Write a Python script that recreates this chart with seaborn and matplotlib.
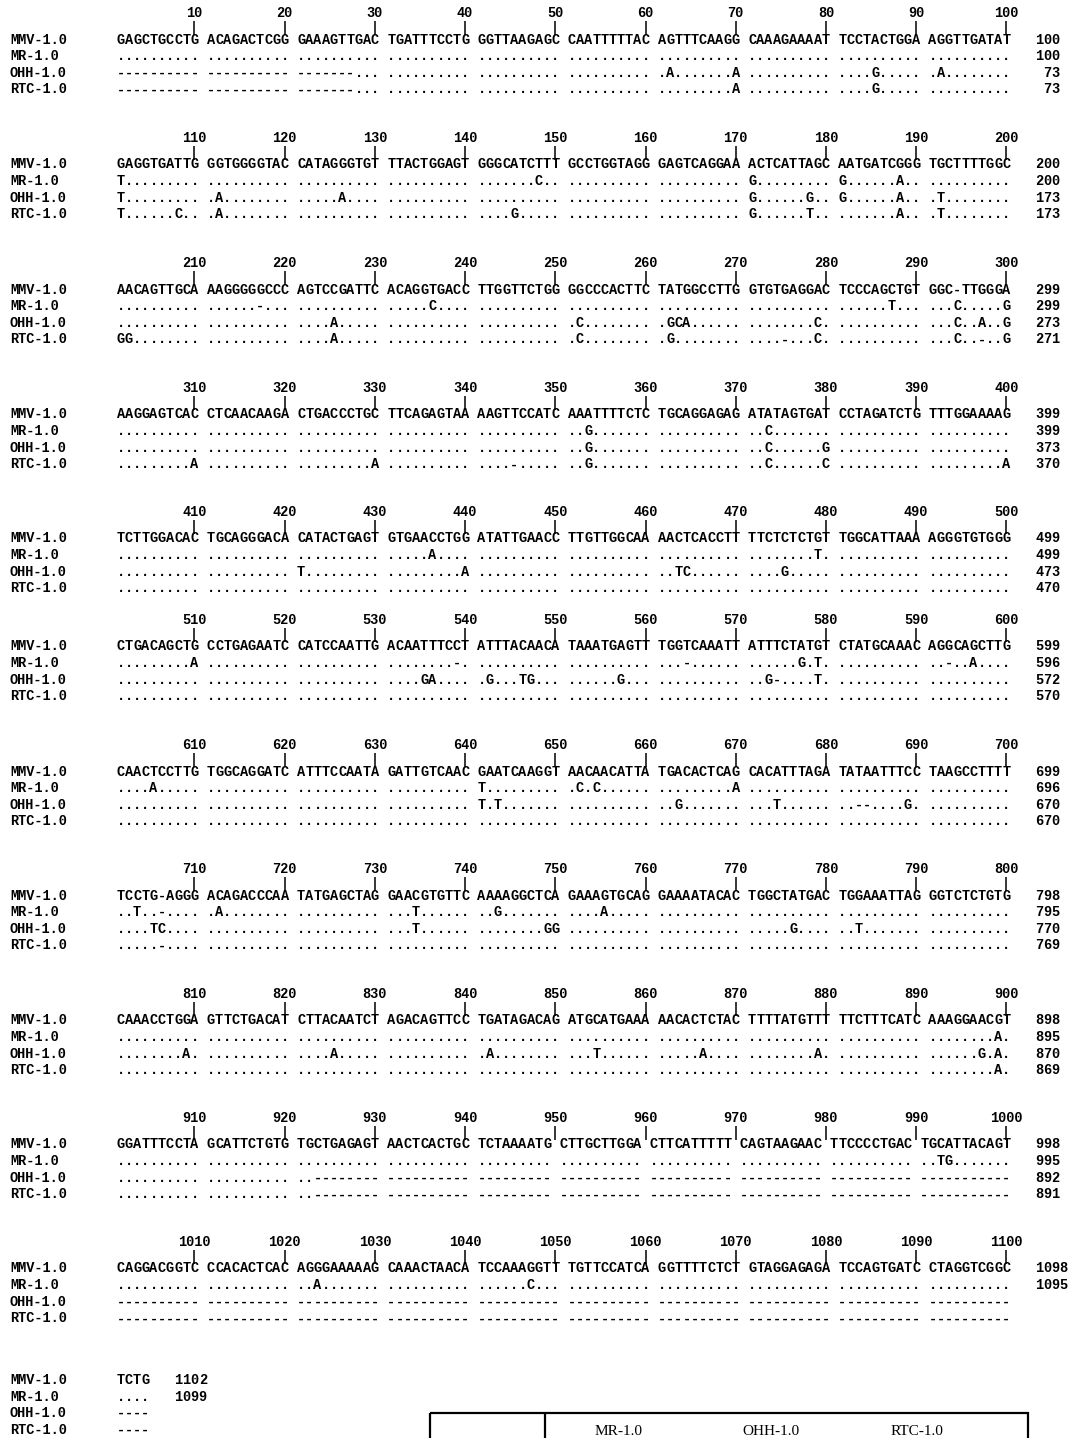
import seaborn as sns
import matplotlib.pyplot as plt
import matplotlib.patches as mpatches
import pandas as pd

# sequence names and alignment blocks (100 columns per block, groups of 10)
names = ["MMV-1.0", "MR-1.0", "OHH-1.0", "RTC-1.0"]

mmv = [
    "GAGCTGCCTG ACAGACTCGG GAAAGTTGAC TGATTTCCTG GGTTAAGAGC CAATTTTTAC AGTTTCAAGG CAAAGAAAAT TCCTACTGGA AGGTTGATAT",
    "GAGGTGATTG GGTGGGGTAC CATAGGGTGT TTACTGGAGT GGGCATCTTT GCCTGGTAGG GAGTCAGGAA ACTCATTAGC AATGATCGGG TGCTTTTGGC",
    "AACAGTTGCA AAGGGGGCCC AGTCCGATTC ACAGGTGACC TTGGTTCTGG GGCCCACTTC TATGGCCTTG GTGTGAGGAC TCCCAGCTGT GGC-TTGGGA",
    "AAGGAGTCAC CTCAACAAGA CTGACCCTGC TTCAGAGTAA AAGTTCCATC AAATTTTCTC TGCAGGAGAG ATATAGTGAT CCTAGATCTG TTTGGAAAAG",
    "TCTTGGACAC TGCAGGGACA CATACTGAGT GTGAACCTGG ATATTGAACC TTGTTGGCAA AACTCACCTT TTCTCTCTGT TGGCATTAAA AGGGTGTGGG",
    "CTGACAGCTG CCTGAGAATC CATCCAATTG ACAATTTCCT ATTTACAACA TAAATGAGTT TGGTCAAATT ATTTCTATGT CTATGCAAAC AGGCAGCTTG",
    "CAACTCCTTG TGGCAGGATC ATTTCCAATA GATTGTCAAC GAATCAAGGT AACAACATTA TGACACTCAG CACATTTAGA TATAATTTCC TAAGCCTTTT",
    "TCCTG-AGGG ACAGACCCAA TATGAGCTAG GAACGTGTTC AAAAGGCTCA GAAAGTGCAG GAAAATACAC TGGCTATGAC TGGAAATTAG GGTCTCTGTG",
    "CAAACCTGGA GTTCTGACAT CTTACAATCT AGACAGTTCC TGATAGACAG ATGCATGAAA AACACTCTAC TTTTATGTTT TTCTTTCATC AAAGGAACGT",
    "GGATTTCCTA GCATTCTGTG TGCTGAGAGT AACTCACTGC TCTAAAATG CTTGCTTGGA CTTCATTTTT CAGTAAGAAC TTCCCCTGAC TGCATTACAGT",
    "CAGGACGGTC CCACACTCAC AGGGAAAAAG CAAACTAACA TCCAAAGGTT TGTTCCATCA GGTTTTCTCT GTAGGAGAGA TCCAGTGATC CTAGGTCGGC",
    "TCTG",
]

mr = [
    ".......... .......... .......... .......... .......... .......... .......... .......... .......... ..........",
    "T......... .......... .......... .......... .......C.. .......... .......... G......... G......A.. ..........",
    ".......... ......-... .......... .....C.... .......... .......... .......... .......... ......T... ...C.....G",
    ".......... .......... .......... .......... .......... ..G....... .......... ..C....... .......... ..........",
    ".......... .......... .......... .....A.... .......... .......... .......... ........T. .......... ..........",
    ".........A .......... .......... ........-. .......... .......... ...-...... ......G.T. .......... ..-..A....",
    "....A..... .......... .......... .......... T......... .C.C...... .........A .......... .......... ..........",
    "..T..-.... .A........ .......... ...T...... ..G....... ....A..... .......... .......... .......... ..........",
    ".......... .......... .......... .......... .......... .......... .......... .......... .......... ........A.",
    ".......... .......... .......... .......... ......... .......... .......... .......... .......... ..TG.......",
    ".......... .......... ..A....... .......... ......C... .......... .......... .......... .......... ..........",
    "....",
]

ohh = [
    "---------- ---------- -------... .......... .......... .......... .A.......A .......... ....G..... .A........",
    "T......... .A........ .....A.... .......... .......... .......... .......... G......G.. G......A.. .T........",
    ".......... .......... ....A..... .......... .......... .C........ .GCA...... ........C. .......... ...C..A..G",
    ".......... .......... .......... .......... .......... ..G....... .......... ..C......G .......... ..........",
    ".......... .......... T......... .........A .......... .......... ..TC...... ....G..... .......... ..........",
    ".......... .......... .......... ....GA.... .G...TG... ......G... .......... ..G-....T. .......... ..........",
    ".......... .......... .......... .......... T.T....... .......... ..G....... ...T...... ..--....G. ..........",
    "....TC.... .......... .......... ...T...... ........GG .......... .......... .....G.... ..T....... ..........",
    "........A. .......... ....A..... .......... .A........ ...T...... .....A.... ........A. .......... ......G.A.",
    ".......... .......... ..-------- ---------- --------- ---------- ---------- ---------- ---------- -----------",
    "---------- ---------- ---------- ---------- ---------- ---------- ---------- ---------- ---------- ----------",
    "----",
]

rtc = [
    "---------- ---------- -------... .......... .......... .......... .........A .......... ....G..... ..........",
    "T......C.. .A........ .......... .......... ....G..... .......... .......... G......T.. .......A.. .T........",
    "GG........ .......... ....A..... .......... .......... .C........ .G........ ....-...C. .......... ...C..-..G",
    ".........A .......... .........A .......... ....-..... ..G....... .......... ..C......C .......... .........A",
    ".......... .......... .......... .......... .......... .......... .......... .......... .......... ..........",
    ".......... .......... .......... .......... .......... .......... .......... .......... .......... ..........",
    ".......... .......... .......... .......... .......... .......... .......... .......... .......... ..........",
    ".....-.... .......... .......... .......... .......... .......... .......... .......... .......... ..........",
    ".......... .......... .......... .......... .......... .......... .......... .......... .......... ........A.",
    ".......... .......... ..-------- ---------- --------- ---------- ---------- ---------- ---------- -----------",
    "---------- ---------- ---------- ---------- ---------- ---------- ---------- ---------- ---------- ----------",
    "----",
]

# running residue count printed at the end of each row
mmv_end = [100, 200, 299, 399, 499, 599, 699, 798, 898, 998, 1098, 1102]
mr_end = [100, 200, 299, 399, 499, 596, 696, 795, 895, 995, 1095, 1099]
ohh_end = [73, 173, 273, 373, 473, 572, 670, 770, 870, 892, None, None]
rtc_end = [73, 173, 271, 370, 470, 570, 670, 769, 869, 891, None, None]

table_header = ["MR-1.0", "OHH-1.0", "RTC-1.0"]

# layout (pixels)
W, H = 1068, 1438
FS = 9.84
PITCH = 8.2
X0 = 10
NAME_W = 13
block_y = [13, 138, 263, 388, 512, 620, 745, 869, 994, 1118, 1242]
last_row_y = 1380
ROW_DY = 16.6

sns.set_theme(style="white")
plt.rcParams["font.family"] = ["Liberation Mono", "DejaVu Sans Mono"]

fig = plt.figure(figsize=(W / 100, H / 100), dpi=100)
ax = fig.add_axes([0, 0, 1, 1])

mono = dict(fontfamily="Liberation Mono", fontweight="bold", fontsize=FS, color="black")


def col_x(col):
    return X0 + (col + 0.5) * PITCH


def put(col, y, s):
    # one glyph per alignment column so the grid stays exact
    for i, ch in enumerate(s):
        if ch != " ":
            ax.text(col_x(col + i), y, ch, ha="center", va="baseline", **mono)


rows = [mmv, mr, ohh, rtc]
ends = [mmv_end, mr_end, ohh_end, rtc_end]

tick_rows = []
for b in range(len(mmv)):
    if b < len(block_y):
        y_first = block_y[b] + 26.5
    else:
        y_first = last_row_y
    nums = [e[b] for e in ends if e[b] is not None]
    width = max(len(str(n)) for n in nums)
    for r in range(4):
        seq = rows[r][b]
        n = ends[r][b]
        y = y_first + r * ROW_DY + 4
        ax.text(X0, y, names[r], ha="left", va="baseline", **mono)
        put(NAME_W, y, seq)
        if n is not None:
            put(NAME_W + len(seq) + 3, y, str(n).rjust(width))

    # ruler above the block
    if b < len(block_y):
        for j in range(1, 11):
            xc = col_x(NAME_W + 11 * j - 2)
            ax.text(xc, block_y[b] + 4, str(b * 100 + 10 * j), ha="center", va="baseline", **mono)
            tick_rows.append({"x": xc, "y": block_y[b] + 14.5})

ticks = pd.DataFrame(tick_rows)
sns.scatterplot(data=ticks, x="x", y="y", marker="|", s=100, color="black",
                linewidth=1.1, ax=ax, legend=False)

# partial table at bottom of page
box = mpatches.Rectangle((430, 1413), 598, 60, fill=False, edgecolor="black", linewidth=1.6)
ax.add_patch(box)
ax.plot([545, 545], [1413, 1450], color="black", linewidth=1.6)
for lbl, xc in zip(table_header, [619, 771, 917]):
    ax.text(xc, 1425, lbl, ha="center", va="top", fontfamily="Liberation Serif",
            fontsize=11, color="black")

ax.set_xlim(0, W)
ax.set_ylim(H, 0)
ax.axis("off")

fig.savefig("out.png", dpi=100, facecolor="white")
